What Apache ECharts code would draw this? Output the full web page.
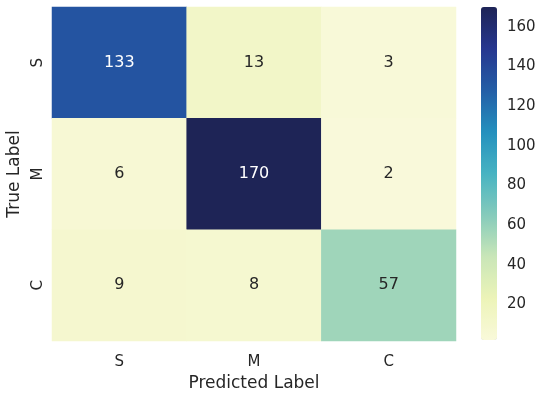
<!DOCTYPE html>
<html><head><meta charset="utf-8">
<script src="https://cdn.jsdelivr.net/npm/echarts@6/dist/echarts.min.js"></script>
<style>html,body{margin:0;padding:0;background:#fff}#c{width:544px;height:393px}</style>
</head><body><div id="c"></div>
<script>
const predictedLabels = ['S', 'M', 'C'];
const trueLabels = ['S', 'M', 'C'];
const rowS = [133, 13, 3];
const rowM = [6, 170, 2];
const rowC = [9, 8, 57];
const colorbarTicks = [20, 40, 60, 80, 100, 120, 140, 160];
const vmin = 2, vmax = 170;

const rows = [rowS, rowM, rowC];
const data = [];
rows.forEach((r, yi) => r.forEach((v, xi) => {
  data.push({value: [xi, yi, v], label: {color: v > 90 ? '#ffffff' : '#262626'}});
}));
const txt = '#262626';
const font = 'DejaVu Sans';
const chart = echarts.init(document.getElementById('c'));
chart.setOption({
  animation: false,
  textStyle: {fontFamily: font},
  grid: [
    {left: 52, top: 7, width: 404, height: 334, containLabel: false, outerBoundsMode: 'none'},
    {left: 481, top: 7, width: 16, height: 333, containLabel: false, outerBoundsMode: 'none'}
  ],
  xAxis: [
    {type: 'category', data: predictedLabels, gridIndex: 0,
     axisLine: {show: false}, axisTick: {show: false}, splitLine: {show: false},
     axisLabel: {color: txt, fontSize: 15, margin: 14, fontFamily: font},
     name: 'Predicted Label', nameLocation: 'middle', nameGap: 24,
     nameTextStyle: {color: txt, fontSize: 17, fontFamily: font}},
    {type: 'value', gridIndex: 1, show: false}
  ],
  yAxis: [
    {type: 'category', data: trueLabels, gridIndex: 0, inverse: true,
     axisLine: {show: false}, axisTick: {show: false}, splitLine: {show: false},
     axisLabel: {color: txt, fontSize: 15, margin: 6, rotate: 90, fontFamily: font},
     name: 'True Label', nameLocation: 'middle', nameGap: 27, nameRotate: 90,
     nameTextStyle: {color: txt, fontSize: 17, fontFamily: font}},
    {type: 'value', gridIndex: 1, position: 'right', min: vmin, max: vmax,
     axisLine: {show: false}, splitLine: {show: false},
     axisTick: {show: true, length: 4, lineStyle: {color: txt, width: 1}, customValues: colorbarTicks},
     axisLabel: {color: txt, fontSize: 15, margin: 10, fontFamily: font, customValues: colorbarTicks}}
  ],
  visualMap: {
    type: 'continuous', min: vmin, max: vmax, seriesIndex: 0,
    left: 481, top: 7, itemWidth: 16, itemHeight: 333, padding: 0,
    calculable: false, showLabel: false, text: null, hoverLink: false,
    inRange: {color: ['#f9f9da', '#ecf4b8', '#c9e6b8', '#85cbbb', '#47b3c2', '#2490be', '#245ea6', '#26368f', '#1e2456']}
  },
  series: [{
    type: 'heatmap', xAxisIndex: 0, yAxisIndex: 0, data: data,
    label: {show: true, fontSize: 16, fontFamily: font},
    itemStyle: {borderWidth: 0}
  }]
});
</script></body></html>
